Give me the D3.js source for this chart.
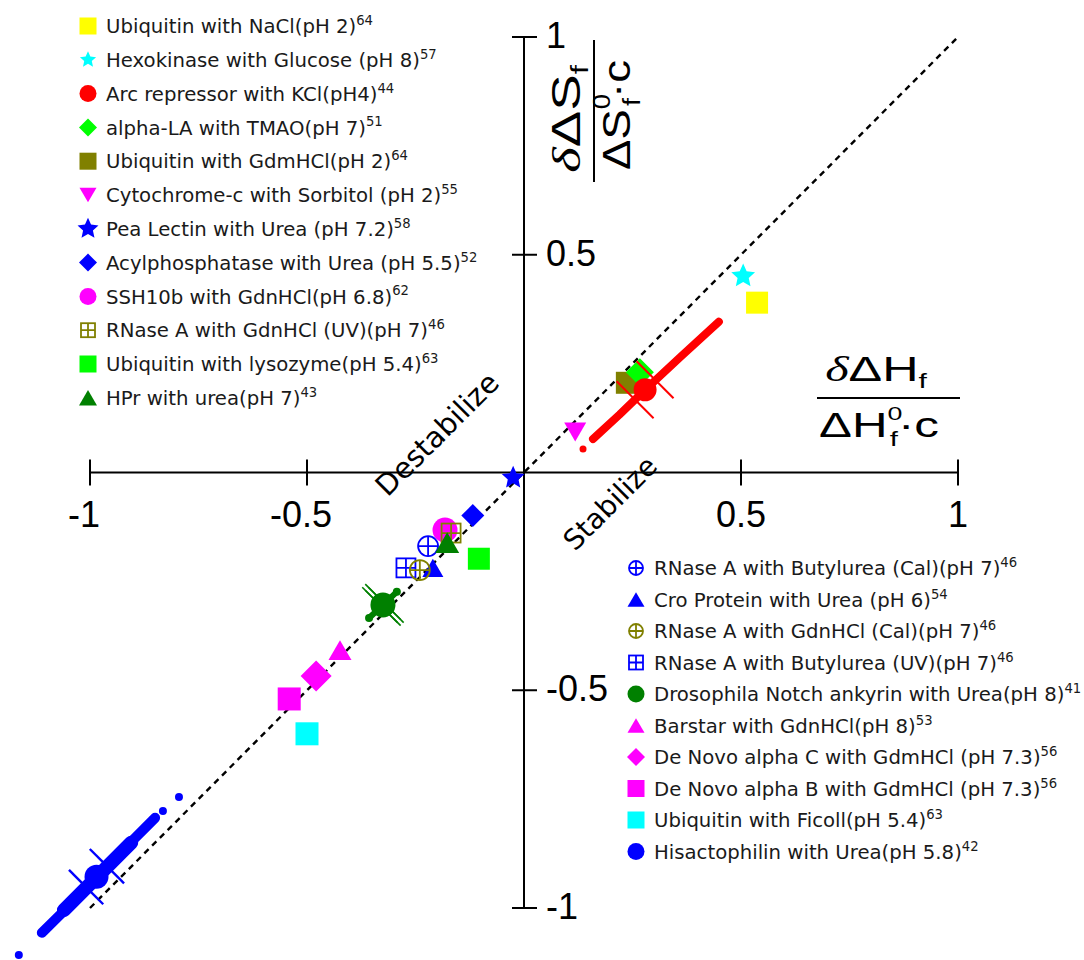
<!DOCTYPE html>
<html><head><meta charset="utf-8">
<script src="https://cdn.jsdelivr.net/npm/d3@7"></script>
<style>body{margin:0;background:#fff} svg{display:block}</style>
</head><body>
<svg id="c" width="1084" height="960"></svg>
<script>
// ---------- DATA ----------
const xTicks = [-1, -0.5, 0.5, 1];
const yTicks = [-1, -0.5, 0.5, 1];
const xTickLabels = ["-1", "-0.5", "0.5", "1"];
const yTickLabels = ["-1", "-0.5", "0.5", "1"];

const names = [
 "Ubiquitin with NaCl(pH 2)", "Hexokinase with Glucose (pH 8)", "Arc repressor with KCl(pH4)",
 "alpha-LA with TMAO(pH 7)", "Ubiquitin with GdmHCl(pH 2)", "Cytochrome-c with Sorbitol (pH 2)",
 "Pea Lectin with Urea (pH 7.2)", "Acylphosphatase with Urea (pH 5.5)", "SSH10b with GdnHCl(pH 6.8)",
 "RNase A with GdnHCl (UV)(pH 7)", "Ubiquitin with lysozyme(pH 5.4)", "HPr with urea(pH 7)",
 "RNase A with Butylurea (Cal)(pH 7)", "Cro Protein with Urea (pH 6)", "RNase A with GdnHCl (Cal)(pH 7)",
 "RNase A with Butylurea (UV)(pH 7)", "Drosophila Notch ankyrin with Urea(pH 8)", "Barstar with GdnHCl(pH 8)",
 "De Novo alpha C with GdmHCl (pH 7.3)", "De Novo alpha B with GdmHCl (pH 7.3)", "Ubiquitin with Ficoll(pH 5.4)",
 "Hisactophilin with Urea(pH 5.8)"
];
const refs = ["64","57","44","51","64","55","58","52","62","46","63","43",
              "46","54","46","46","41","53","56","56","63","42"];
// x: δΔHf/(ΔH0f·c), y: δΔSf/(ΔS0f·c)
const valH = [0.537, 0.505, 0.279, 0.267, 0.237, 0.118, -0.025, -0.118, -0.182, -0.168, -0.104, -0.177,
              -0.221, -0.210, -0.240, -0.272, -0.325, -0.424, -0.479, -0.541, -0.500, -0.985];
const valS = [0.390, 0.451, 0.190, 0.230, 0.206, 0.093, -0.012, -0.099, -0.132, -0.139, -0.198, -0.161,
              -0.169, -0.219, -0.224, -0.219, -0.304, -0.408, -0.467, -0.520, -0.600, -0.928];

// dense concentration series (streaks of small points)
const arcStreakH = [0.159, 0.220, 0.279, 0.360, 0.449];
const arcStreakS = [0.077, 0.133, 0.190, 0.265, 0.346];
const arcExtraH = [0.136];
const arcExtraS = [0.054];
const hisStreakH = [-1.111, -1.046, -0.984, -0.917, -0.850];
const hisStreakS = [-1.057, -0.993, -0.929, -0.860, -0.793];
const hisCoreH = [-1.060, -0.905];
const hisCoreS = [-1.005, -0.850];
const hisExtraH = [-0.795, -0.832, -1.164];
const hisExtraS = [-0.745, -0.777, -1.108];
const droStreakH = [-0.357, -0.293];
const droStreakS = [-0.334, -0.274];
// error values (x and y) for the three big points: Arc, Drosophila, Hisactophilin
const errIdx = [2, 16, 21];
const errH = [0.046, 0.007, 0.048];
const errS = [0.046, 0.007, 0.048];

// ---------- STYLE ----------
const style = [
 {shape:"square", color:"#FFFF00", size:22, lsize:17},
 {shape:"star", color:"#00FFFF", size:25, lsize:17},
 {shape:"circle", color:"#FF0000", size:23, lsize:17},
 {shape:"diamond", color:"#00FF00", size:28, lsize:18},
 {shape:"square", color:"#808000", size:22, lsize:17},
 {shape:"triDown", color:"#FF00FF", size:22, lsize:17},
 {shape:"star", color:"#0000FF", size:24, lsize:22},
 {shape:"diamond", color:"#0000FF", size:23, lsize:18},
 {shape:"circle", color:"#FF00FF", size:25, lsize:17},
 {shape:"grid", color:"#808000", size:21, lsize:16},
 {shape:"square", color:"#00FF00", size:22, lsize:17},
 {shape:"triUp", color:"#008000", size:24, lsize:18},
 {shape:"cplus", color:"#0000FF", size:22, lsize:16},
 {shape:"triUp", color:"#0000FF", size:21, lsize:17},
 {shape:"cplus", color:"#808000", size:22, lsize:16},
 {shape:"grid", color:"#0000FF", size:21, lsize:16},
 {shape:"circle", color:"#008000", size:25, lsize:17},
 {shape:"triUp", color:"#FF00FF", size:23, lsize:17},
 {shape:"diamond", color:"#FF00FF", size:31, lsize:18},
 {shape:"square", color:"#FF00FF", size:23, lsize:17},
 {shape:"square", color:"#00FFFF", size:23, lsize:17},
 {shape:"circle", color:"#0000FF", size:24, lsize:17}
];
const capStyle = [ {len:24, w:2, col:"#FF0000"}, {len:50, w:1.6, col:"#008000"}, {len:19, w:2.4, col:"#0000FF"} ];

const svg = d3.select("#c");
const x = d3.scaleLinear().domain([-1, 1]).range([90, 958]);
const y = d3.scaleLinear().domain([-1, 1]).range([908, 37]);

// ---------- AXES ----------
const axG = svg.append("g");
axG.append("line").attr("x1", x(-1)).attr("x2", x(1)).attr("y1", y(0)).attr("y2", y(0))
  .attr("stroke", "#000").attr("stroke-width", 2);
axG.append("line").attr("x1", x(0)).attr("x2", x(0)).attr("y1", y(-1)).attr("y2", y(1))
  .attr("stroke", "#000").attr("stroke-width", 2);
xTicks.forEach((t, i) => {
  axG.append("line").attr("x1", x(t)).attr("x2", x(t)).attr("y1", y(0) - 13).attr("y2", y(0) + 13)
    .attr("stroke", "#000").attr("stroke-width", 2);
  axG.append("text").attr("x", x(t)).attr("y", 527).attr("text-anchor", "middle")
    .attr("dx", t < 0 ? -6 : 0)
    .style("font-family", "'Liberation Sans', Arial, sans-serif").style("font-size", "36px")
    .text(xTickLabels[i]);
});
yTicks.forEach((t, i) => {
  axG.append("line").attr("x1", x(0) - 12).attr("x2", x(0) + 13).attr("y1", y(t)).attr("y2", y(t))
    .attr("stroke", "#000").attr("stroke-width", 2);
  axG.append("text").attr("x", 546).attr("y", y(t) + 11).attr("text-anchor", "start")
    .style("font-family", "'Liberation Sans', Arial, sans-serif").style("font-size", "36px")
    .text(yTickLabels[i]);
});

// diagonal y = x
svg.append("path").attr("d", d3.line()([[x(-1), y(-1)], [x(1), y(1)]]))
  .attr("stroke", "#000").attr("stroke-width", 2.4).attr("stroke-dasharray", "6,5").attr("fill", "none");

// ---------- AXIS TITLES ----------
function fracText(parent, cx, baseY, parts, size, targetW) {
  const g = parent.append("g").attr("transform", `translate(${cx},0)`);
  const t = g.append("text").attr("x", 0).attr("y", baseY).attr("text-anchor", "middle")
    .style("font-family", "'Liberation Sans', Arial, sans-serif").style("font-size", size + "px");
  parts.forEach(p => {
    const ts = t.append("tspan").text(p.t);
    if (p.dy) ts.attr("dy", p.dy);
    if (p.dx) ts.attr("dx", p.dx);
    if (p.size) ts.style("font-size", p.size + "px");
    if (p.it) ts.style("font-family", "'Liberation Serif', serif").style("font-style", "italic");
  });
  const w = t.node().getBBox().width;
  g.attr("transform", `translate(${cx},0) scale(${targetW / w},1)`);
}
// x title
const xt = svg.append("g");
xt.append("line").attr("x1", 817).attr("x2", 960).attr("y1", 398).attr("y2", 398).attr("stroke", "#000").attr("stroke-width", 2);
fracText(xt, 876, 381, [{t:"δ", it:true}, {t:"ΔH"}, {t:"f", dy:7, size:21}], 35, 102);
fracText(xt, 879, 437, [{t:"ΔH"}, {t:"0", dy:-17, size:19}, {t:"f", dx:-9, dy:26, size:21}, {t:"·c", dy:-9}], 35, 120);
// y title (rotated)
const yt = svg.append("g").attr("transform", "translate(594,117) rotate(-90)");
yt.append("line").attr("x1", -65).attr("x2", 77).attr("y1", 0).attr("y2", 0).attr("stroke", "#000").attr("stroke-width", 2);
fracText(yt, -2, -14, [{t:"δ", it:true}, {t:"ΔS"}, {t:"f", dy:8, size:24}], 40, 108);
fracText(yt, 2, 36, [{t:"ΔS"}, {t:"0", dy:-20, size:23}, {t:"f", dx:-10, dy:30, size:24}, {t:"·c", dy:-10}], 38, 110);

// Destabilize / Stabilize
svg.append("text").attr("transform", "translate(437,434) rotate(-45)").attr("text-anchor", "middle").attr("dy", "0.35em")
  .style("font-family", "'DejaVu Sans', Verdana, sans-serif").style("font-size", "29px").text("Destabilize");
svg.append("text").attr("transform", "translate(610,503) rotate(-45)").attr("text-anchor", "middle").attr("dy", "0.35em")
  .style("font-family", "'DejaVu Sans', Verdana, sans-serif").style("font-size", "28px").text("Stabilize");

// ---------- MARKERS ----------
function drawMarker(g, cx, cy, st, s) {
  const c = st.color, h = s / 2;
  const grp = g.append("g").attr("transform", `translate(${cx},${cy})`);
  switch (st.shape) {
    case "square":
      grp.append("rect").attr("x", -h).attr("y", -h).attr("width", s).attr("height", s).attr("fill", c); break;
    case "circle":
      grp.append("circle").attr("r", h).attr("fill", c); break;
    case "diamond":
      grp.append("path").attr("d", `M0,${-h}L${h},0L0,${h}L${-h},0Z`).attr("fill", c); break;
    case "triUp": {
      const th = s * 0.86;
      grp.append("path").attr("d", `M0,${-th/2}L${h},${th/2}L${-h},${th/2}Z`).attr("fill", c); break; }
    case "triDown": {
      const th = s * 0.86;
      grp.append("path").attr("d", `M0,${th/2}L${h},${-th/2}L${-h},${-th/2}Z`).attr("fill", c); break; }
    case "star": {
      const pts = [];
      for (let k = 0; k < 10; k++) {
        const r = k % 2 === 0 ? h : h * 0.47;
        const a = -Math.PI / 2 + k * Math.PI / 5;
        pts.push([r * Math.cos(a), r * Math.sin(a)]);
      }
      grp.append("path").attr("d", "M" + pts.map(p => p.join(",")).join("L") + "Z").attr("fill", c); break; }
    case "cplus": {
      const r = h - 1;
      grp.append("circle").attr("r", r).attr("fill", "none").attr("stroke", c).attr("stroke-width", 1.8);
      grp.append("path").attr("d", `M${-r},0H${r}M0,${-r}V${r}`).attr("stroke", c).attr("stroke-width", 1.8); break; }
    case "grid": {
      const r = h - 1;
      grp.append("rect").attr("x", -r).attr("y", -r).attr("width", 2*r).attr("height", 2*r)
        .attr("fill", "none").attr("stroke", c).attr("stroke-width", 1.8);
      grp.append("path").attr("d", `M${-r},0H${r}M0,${-r}V${r}`).attr("stroke", c).attr("stroke-width", 1.8); break; }
  }
}

function drawStreak(g, hs, ss, col, w) {
  g.append("path").attr("d", d3.line()(hs.map((v, i) => [x(v), y(ss[i])])))
    .attr("fill", "none").attr("stroke", col).attr("stroke-width", w).attr("stroke-linecap", "round").attr("stroke-linejoin", "round");
}
function drawDots(g, hs, ss, col, r) {
  hs.forEach((v, i) => g.append("circle").attr("cx", x(v)).attr("cy", y(ss[i])).attr("r", r).attr("fill", col));
}
function drawCaps(g, k) {
  const i = errIdx[k], cs = capStyle[k];
  const cx = valH[i], cy = valS[i];
  const ends = [[cx - errH[k], cy], [cx + errH[k], cy], [cx, cy - errS[k]], [cx, cy + errS[k]]];
  const hh = cs.len / (2 * Math.SQRT2);
  ends.forEach(e => {
    const px = x(e[0]), py = y(e[1]);
    g.append("line").attr("x1", px - hh).attr("y1", py - hh).attr("x2", px + hh).attr("y2", py + hh)
      .attr("stroke", cs.col).attr("stroke-width", cs.w);
  });
}

const plot = svg.append("g");
const single = i => drawMarker(plot, x(valH[i]), y(valS[i]), style[i], style[i].size);

// Hisactophilin
drawStreak(plot, hisStreakH, hisStreakS, "#0000FF", 10);
drawStreak(plot, hisCoreH, hisCoreS, "#0000FF", 14);
drawDots(plot, hisExtraH, hisExtraS, "#0000FF", 4);
single(21); drawCaps(plot, 2);
[20, 19, 18, 17].forEach(single);
// Drosophila
drawDots(plot, droStreakH, droStreakS, "#008000", 4);
drawStreak(plot, droStreakH, droStreakS, "#008000", 6);
single(16); drawCaps(plot, 1);
[15, 13, 14, 12, 8, 9, 11, 10, 7, 6, 5, 4, 3].forEach(single);
// Arc repressor
drawStreak(plot, arcStreakH, arcStreakS, "#FF0000", 8);
drawDots(plot, arcExtraH, arcExtraS, "#FF0000", 3.5);
single(2); drawCaps(plot, 0);
[1, 0].forEach(single);

// ---------- LEGENDS ----------
function legendRow(i, mx, tx, ry, fs) {
  drawMarker(svg, mx, ry, style[i], style[i].lsize);
  const t = svg.append("text").attr("x", tx).attr("y", ry + fs * 0.37)
    .style("font-family", "'DejaVu Sans', Verdana, sans-serif").style("font-size", fs + "px").attr("fill", "#1a1a1a");
  t.append("tspan").text(names[i]);
  t.append("tspan").text(refs[i]).attr("dy", -fs * 0.42).style("font-size", (fs * 0.67) + "px");
}
for (let k = 0; k < 12; k++) legendRow(k, 88, 106, 26 + 33.8 * k, 19.7);
for (let k = 0; k < 10; k++) legendRow(12 + k, 636, 654, 568 + 31.5 * k, 19.7);
</script>
</body></html>
